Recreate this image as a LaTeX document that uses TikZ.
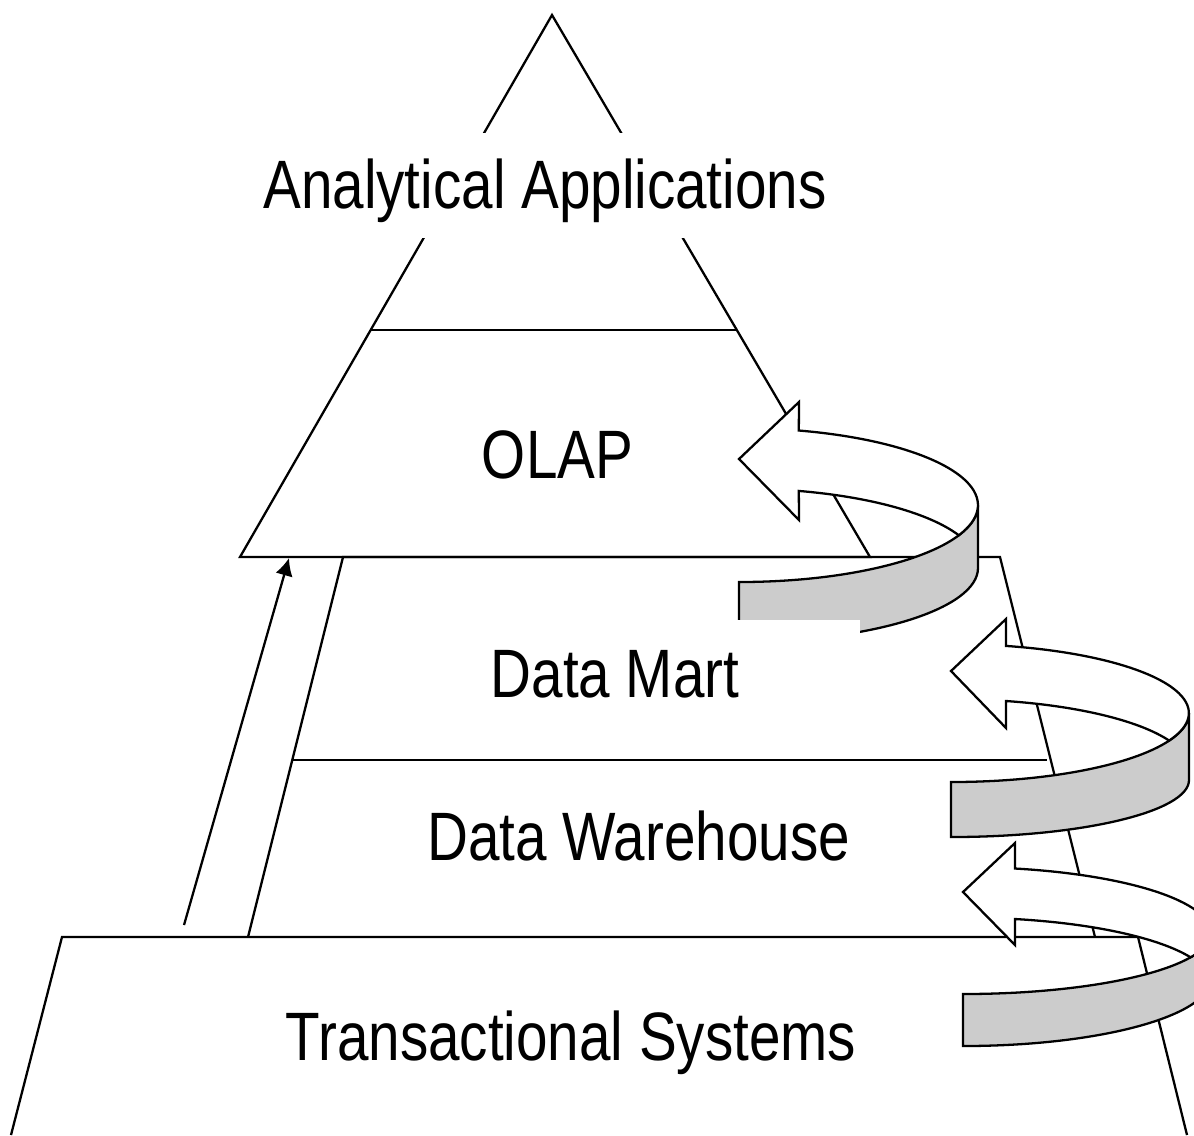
\documentclass[tikz,border=0pt]{standalone}
\usepackage{fontspec}
\setmainfont{Liberation Sans}
\usepackage{graphicx}
\usepackage{tikz}
\usetikzlibrary{arrows.meta}
\usepackage{xcolor}
\definecolor{BandGray}{HTML}{CCCCCC}
\newcommand{\tallbox}[1]{\scalebox{1}[1.21]{#1}}

\begin{document}
\begin{tikzpicture}[
  x=0.01cm, y=0.01cm, yscale=-1,
  tier/.style={draw=black, line width=0.65pt},
  band/.style={draw=black, line width=0.65pt, fill=BandGray},
  curlface/.style={draw=black, line width=0.65pt, fill=white},
  uparr/.style={-{Latex[length=5pt,width=5pt]}, line width=0.65pt},
  lbl/.style={font=\fontsize{16.1pt}{19pt}\selectfont, inner xsep=0pt, inner ysep=0pt, anchor=base}
]
  \useasboundingbox (0,0) rectangle (1194,1135);

  \draw[tier] (552,15) -- (240,557) -- (870,557) -- cycle;
  \draw[tier] (370.7,330) -- (736.8,330);
  \draw[tier] (248,937) -- (343,557) -- (1000,557) -- (1095,937);
  \draw[tier] (292.3,760) -- (1047,760);
  \draw[tier] (11,1135) -- (62,937) -- (1138,937) -- (1187,1135);

  \coordinate (ts-top) at (184,925);
  \coordinate (olap-base) at (289,558);
  \draw[uparr] (ts-top) -- (olap-base);

  \node[lbl, fill=white, text height=0.55cm, text depth=0.1cm, inner ysep=0.2cm] (apps) at (545,208) {\tallbox{Analytical Applications}};

  \begin{scope}[shift={(739,459)}]
    \draw[band] (0,123) arc[start angle=90, end angle=0, x radius=239, y radius=77]
      -- (239,109) arc[start angle=0, end angle=90, x radius=239, y radius=74] -- cycle;
    \draw[curlface] (0,0) -- (60,-57) -- (59.8,-28.5)
      arc[start angle=-75.5, end angle=23.1, x radius=239, y radius=77]
      arc[start angle=-23.1, end angle=-75.5, x radius=239, y radius=77]
      -- (60,61) -- cycle;
  \end{scope}

  \node[lbl, fill=white, minimum width=4.9cm, text height=0.55cm, text depth=0cm, inner ysep=0.22cm] (mart) at (615,697) {\tallbox{Data Mart}};

  \begin{scope}[shift={(951,671)}]
    \draw[band] (0,111) arc[start angle=90, end angle=0, x radius=238, y radius=69]
      -- (238,109) arc[start angle=0, end angle=90, x radius=238, y radius=57] -- cycle;
    \draw[curlface] (0,0) -- (55,-52) -- (54.9,-25.1)
      arc[start angle=-76.64, end angle=23.53, x radius=238, y radius=69]
      arc[start angle=-23.53, end angle=-76.64, x radius=238, y radius=69]
      -- (55,57) -- cycle;
  \end{scope}

  \begin{scope}[shift={(963,892)}]
    \draw[band] (0,102) arc[start angle=90, end angle=0, x radius=248, y radius=61]
      -- (248,86.4) arc[start angle=0, end angle=90, x radius=248, y radius=67.6] -- cycle;
    \draw[curlface] (0,0) -- (52,-49) -- (52,-23.5)
      arc[start angle=-77.9, end angle=0, x radius=248, y radius=66]
      arc[start angle=0, end angle=23.43, x radius=248, y radius=61]
      arc[start angle=-23.43, end angle=-77.9, x radius=248, y radius=66]
      -- (52,53) -- cycle;
  \end{scope}

  \node[lbl] (olap) at (557.5,478) {\tallbox{OLAP}};
  \node[lbl] (warehouse) at (638.5,860) {\tallbox{Data Warehouse}};
  \node[lbl] (trans) at (571,1060) {\tallbox{Transactional Systems}};
\end{tikzpicture}
\end{document}
